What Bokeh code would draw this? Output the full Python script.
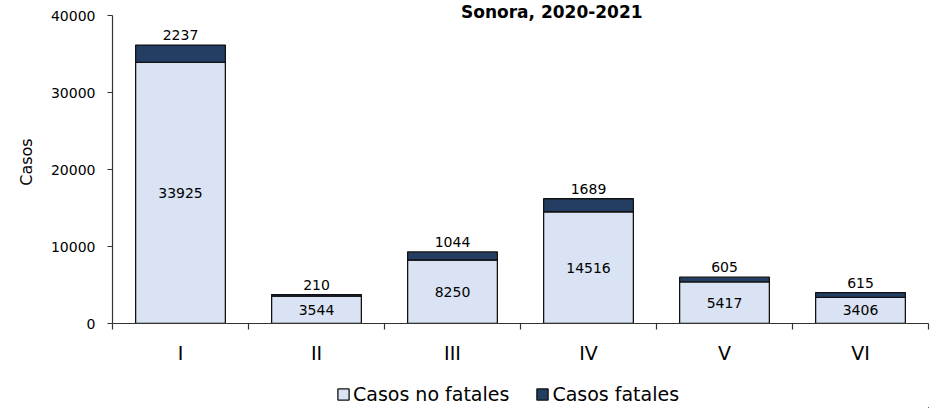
from bokeh.plotting import figure
from bokeh.layouts import column
from bokeh.models import (ColumnDataSource, Range1d, FixedTicker, Label, Legend, LegendItem)
from bokeh.core.properties import value
from bokeh.embed import file_html
from bokeh.resources import INLINE

categories = ["I", "II", "III", "IV", "V", "VI"]
no_fatales = [33925, 3544, 8250, 14516, 5417, 3406]
fatales = [2237, 210, 1044, 1689, 605, 615]
y_ticks = [0, 10000, 20000, 30000, 40000]
series_names = ["Casos no fatales", "Casos fatales"]
title_text = "Sonora, 2020-2021"

FONT = "DejaVu Sans"
LIGHT = "#DAE3F3"
DARK = "#233E62"
EDGE = "#111111"
AX = "#333333"

W = 938
xs = [i + 0.5 for i in range(len(categories))]
tops = [a + b for a, b in zip(no_fatales, fatales)]
src = ColumnDataSource(dict(
    x=xs, nf=no_fatales, f=fatales, top=tops,
    mid=[v / 2 for v in no_fatales],
    nf_lab=[str(v) for v in no_fatales],
    f_lab=[str(v) for v in fatales],
))

p = figure(width=W, height=372, output_backend="svg", toolbar_location=None,
           x_range=Range1d(0, 6), y_range=Range1d(0, 41950),
           min_border_top=0, min_border_left=112, min_border_right=10,
           min_border_bottom=49)
p.outline_line_color = None
p.xgrid.grid_line_color = None
p.ygrid.grid_line_color = None

r1 = p.vbar(x="x", bottom=0, top="nf", width=0.66, source=src,
            fill_color=LIGHT, line_color=EDGE, line_width=1.3)
r2 = p.vbar(x="x", bottom="nf", top="top", width=0.66, source=src,
            fill_color=DARK, line_color=EDGE, line_width=1.3)

p.text(x="x", y="mid", text="nf_lab", source=src, text_align="center",
       text_baseline="middle", text_font=value(FONT), text_font_size="14px",
       text_color="black")
p.text(x="x", y="top", text="f_lab", source=src, text_align="center",
       text_baseline="bottom", y_offset=-5, text_font=value(FONT),
       text_font_size="14px", text_color="black")

# y axis
yax = p.yaxis[0]
yax.ticker = FixedTicker(ticks=y_ticks)
yax.bounds = (y_ticks[0], y_ticks[-1])
yax.minor_tick_line_color = None
yax.major_tick_out = 5
yax.major_tick_in = 0
yax.major_label_standoff = 12
yax.major_label_text_font = FONT
yax.major_label_text_font_size = "14px"
yax.major_label_text_color = "black"
yax.axis_line_color = AX
yax.axis_line_width = 1.2
yax.major_tick_line_color = AX
yax.major_tick_line_width = 1.2
yax.axis_label = "Casos"
yax.axis_label_text_font = FONT
yax.axis_label_text_font_size = "16px"
yax.axis_label_text_font_style = "normal"
yax.axis_label_text_color = "black"
yax.axis_label_standoff = 12

# x axis: labels at centers, ticks at category boundaries
xax = p.xaxis[0]
xax.ticker = FixedTicker(ticks=xs, minor_ticks=[float(i) for i in range(len(categories) + 1)])
xax.major_label_overrides = {x: c for x, c in zip(xs, categories)}
xax.major_tick_line_color = None
xax.major_tick_out = 6
xax.major_tick_in = 0
xax.minor_tick_out = 6
xax.minor_tick_in = 0
xax.minor_tick_line_color = AX
xax.minor_tick_line_width = 1.2
xax.axis_line_color = AX
xax.axis_line_width = 1.2
xax.major_label_standoff = 12
xax.major_label_text_font = FONT
xax.major_label_text_font_size = "19px"
xax.major_label_text_color = "black"

# title (inside the frame, above the 40000 level)
p.add_layout(Label(x=3.23, y=y_ticks[-1], y_offset=-6, text=title_text,
                   text_align="center", text_baseline="bottom",
                   text_font=FONT, text_font_size="17px",
                   text_font_style="bold", text_color="black"))

# legend in its own strip below the chart (proxy bars lie outside its ranges)
lf = figure(width=W, height=36, output_backend="svg", toolbar_location=None,
            x_range=Range1d(-20, -10), y_range=Range1d(50000, 100000),
            x_axis_location=None, y_axis_location=None,
            min_border=0)
lf.outline_line_color = None
lf.xgrid.grid_line_color = None
lf.ygrid.grid_line_color = None
l1 = lf.vbar(x="x", bottom=0, top="nf", width=0.66, source=src,
             fill_color=LIGHT, line_color=EDGE, line_width=1.3)
l2 = lf.vbar(x="x", bottom="nf", top="top", width=0.66, source=src,
             fill_color=DARK, line_color=EDGE, line_width=1.3)
legend = Legend(items=[LegendItem(label=series_names[0], renderers=[l1]),
                       LegendItem(label=series_names[1], renderers=[l2])],
                orientation="horizontal", location=(224, 3),
                label_text_font=FONT, label_text_font_size="19px",
                label_text_color="black",
                glyph_width=14, glyph_height=14, label_standoff=3,
                spacing=26, padding=0, margin=0,
                border_line_color=None, background_fill_alpha=0)
lf.add_layout(legend, "center")

layout = column(p, lf, spacing=0)
open("out.html", "w").write(file_html(layout, INLINE))
